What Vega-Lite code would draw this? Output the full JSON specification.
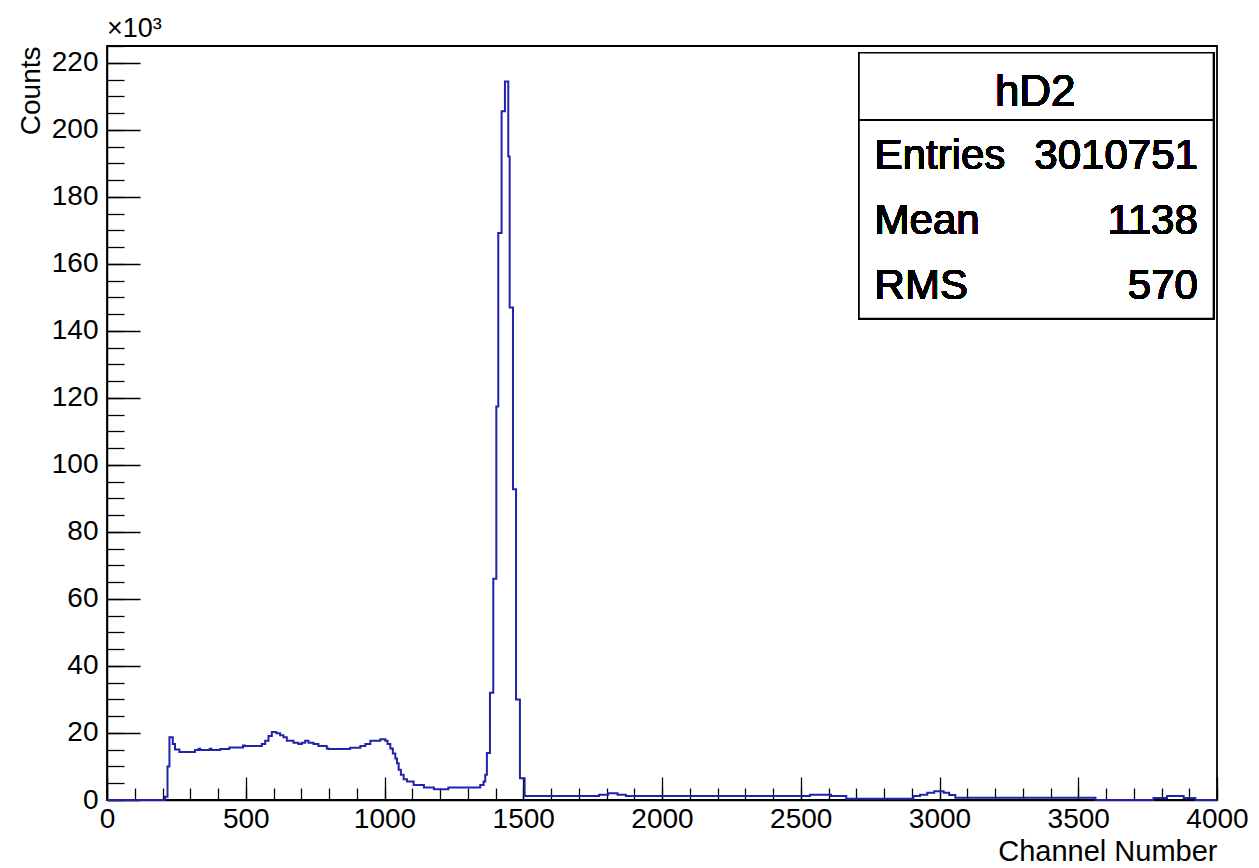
{
  "$schema": "https://vega.github.io/schema/vega-lite/v6.json",
  "width": 1110,
  "height": 754,
  "autosize": {"type": "none"},
  "padding": {"left": 107, "top": 46, "right": 42, "bottom": 68},
  "background": "white",
  "config": {
    "view": {"stroke": "black", "strokeWidth": 1.8},
    "font": "Liberation Sans",
    "title": {"font": "Liberation Sans", "fontWeight": "normal", "color": "black"},
    "axis": {"labelFont": "Liberation Sans", "titleFont": "Liberation Sans", "labelColor": "black", "titleColor": "black", "domainColor": "black", "tickColor": "black", "grid": false, "titleFontWeight": "normal", "tickWidth": 1.3, "domainWidth": 1.5}
  },
  "title": {"text": "×10³", "anchor": "start", "frame": "group", "fontSize": 27, "offset": 2},
  "resolve": {"axis": {"x": "independent", "y": "independent"}},
  "data": {"values": [
    {"channel": 0, "counts": 0}, {"channel": 209, "counts": 1000}, {"channel": 218, "counts": 10000}, {"channel": 225, "counts": 18700},
    {"channel": 237, "counts": 16700}, {"channel": 245, "counts": 15100}, {"channel": 261, "counts": 14300}, {"channel": 317, "counts": 14900},
    {"channel": 330, "counts": 15300}, {"channel": 336, "counts": 14900}, {"channel": 370, "counts": 15300}, {"channel": 376, "counts": 14900},
    {"channel": 408, "counts": 15200}, {"channel": 441, "counts": 15700}, {"channel": 490, "counts": 16300}, {"channel": 496, "counts": 16100},
    {"channel": 558, "counts": 16700}, {"channel": 570, "counts": 17700}, {"channel": 582, "counts": 19100}, {"channel": 594, "counts": 20300},
    {"channel": 610, "counts": 19900}, {"channel": 624, "counts": 19300}, {"channel": 636, "counts": 18700}, {"channel": 648, "counts": 17700},
    {"channel": 672, "counts": 17100}, {"channel": 690, "counts": 16700}, {"channel": 702, "counts": 17100}, {"channel": 714, "counts": 17700},
    {"channel": 726, "counts": 17100}, {"channel": 744, "counts": 16700}, {"channel": 762, "counts": 16100}, {"channel": 792, "counts": 15400},
    {"channel": 798, "counts": 15200}, {"channel": 876, "counts": 15600}, {"channel": 913, "counts": 16100}, {"channel": 931, "counts": 16700},
    {"channel": 949, "counts": 17700}, {"channel": 985, "counts": 18100}, {"channel": 1003, "counts": 17700}, {"channel": 1011, "counts": 16700},
    {"channel": 1021, "counts": 15400}, {"channel": 1030, "counts": 13900}, {"channel": 1039, "counts": 12400}, {"channel": 1045, "counts": 11000},
    {"channel": 1051, "counts": 9000}, {"channel": 1059, "counts": 7500}, {"channel": 1069, "counts": 6200}, {"channel": 1081, "counts": 5500},
    {"channel": 1105, "counts": 4500}, {"channel": 1142, "counts": 3700}, {"channel": 1178, "counts": 3200}, {"channel": 1230, "counts": 3700},
    {"channel": 1345, "counts": 4500}, {"channel": 1357, "counts": 5500}, {"channel": 1363, "counts": 7500}, {"channel": 1369, "counts": 14000},
    {"channel": 1380, "counts": 32000}, {"channel": 1392, "counts": 66000}, {"channel": 1403, "counts": 117400}, {"channel": 1410, "counts": 169200},
    {"channel": 1422, "counts": 205500}, {"channel": 1434, "counts": 214400}, {"channel": 1446, "counts": 192000}, {"channel": 1451, "counts": 147000},
    {"channel": 1463, "counts": 92700}, {"channel": 1474, "counts": 30000}, {"channel": 1488, "counts": 6500}, {"channel": 1505, "counts": 1200},
    {"channel": 1773, "counts": 1600}, {"channel": 1806, "counts": 2000}, {"channel": 1840, "counts": 1600}, {"channel": 1870, "counts": 1200},
    {"channel": 2533, "counts": 1600}, {"channel": 2609, "counts": 1200}, {"channel": 2664, "counts": 400}, {"channel": 2906, "counts": 1200},
    {"channel": 2930, "counts": 1600}, {"channel": 2956, "counts": 2200}, {"channel": 2981, "counts": 2600}, {"channel": 3015, "counts": 2200},
    {"channel": 3035, "counts": 1500}, {"channel": 3057, "counts": 700}, {"channel": 3562, "counts": 0}, {"channel": 3771, "counts": 600},
    {"channel": 3820, "counts": 1200}, {"channel": 3880, "counts": 600}, {"channel": 3922, "counts": 0}, {"channel": 4000, "counts": 0}
  ]},
  "layer": [
    {
      "mark": {"type": "line", "interpolate": "step-after", "color": "#2222aa", "strokeWidth": 2},
      "encoding": {
        "x": {"field": "channel", "type": "quantitative", "scale": {"domain": [0, 4000], "nice": false, "zero": false},
          "axis": {"orient": "bottom", "values": [0, 500, 1000, 1500, 2000, 2500, 3000, 3500, 4000], "format": "d", "ticks": false, "labelFontSize": 28, "labelPadding": 5, "labelFlush": false, "labelOverlap": false, "title": "Channel Number", "titleAnchor": "end", "titleFontSize": 29, "titlePadding": 4}},
        "y": {"field": "counts", "type": "quantitative", "scale": {"domain": [0, 225000], "nice": false},
          "axis": {"orient": "left", "values": [0, 20000, 40000, 60000, 80000, 100000, 120000, 140000, 160000, 180000, 200000, 220000], "labelExpr": "datum.value/1000", "ticks": false, "labelFontSize": 28, "labelPadding": 9, "labelFlush": false, "labelOverlap": false, "title": "Counts", "titleAnchor": "end", "titleFontSize": 28, "titlePadding": 6}}
      }
    },
    {
      "mark": {"type": "line", "opacity": 0},
      "encoding": {
        "x": {"field": "channel", "type": "quantitative", "axis": {"orient": "bottom", "values": [0, 500, 1000, 1500, 2000, 2500, 3000, 3500, 4000], "tickSize": -23, "labels": false, "domain": false, "title": null}},
        "y": {"field": "counts", "type": "quantitative", "axis": {"orient": "left", "values": [0, 20000, 40000, 60000, 80000, 100000, 120000, 140000, 160000, 180000, 200000, 220000], "tickSize": -33, "labels": false, "domain": false, "title": null}}
      }
    },
    {
      "mark": {"type": "line", "opacity": 0},
      "encoding": {
        "x": {"field": "channel", "type": "quantitative", "axis": {"orient": "bottom", "values": [0,100,200,300,400,500,600,700,800,900,1000,1100,1200,1300,1400,1500,1600,1700,1800,1900,2000,2100,2200,2300,2400,2500,2600,2700,2800,2900,3000,3100,3200,3300,3400,3500,3600,3700,3800,3900,4000], "tickSize": -12, "labels": false, "domain": false, "title": null}},
        "y": {"field": "counts", "type": "quantitative", "axis": {"orient": "left", "values": [0,5000,10000,15000,20000,25000,30000,35000,40000,45000,50000,55000,60000,65000,70000,75000,80000,85000,90000,95000,100000,105000,110000,115000,120000,125000,130000,135000,140000,145000,150000,155000,160000,165000,170000,175000,180000,185000,190000,195000,200000,205000,210000,215000,220000,225000], "tickSize": -17, "labels": false, "domain": false, "title": null}}
      }
    },
    {
      "mark": {"type": "rect", "fill": "white", "stroke": "black", "strokeWidth": 1.5},
      "encoding": {"x": {"datum": 2710, "type": "quantitative", "axis": null}, "x2": {"datum": 3987}, "y": {"datum": 223000, "type": "quantitative", "axis": null}, "y2": {"datum": 143700}}
    },
    {
      "mark": {"type": "rule", "stroke": "black", "strokeWidth": 1.2},
      "encoding": {"x": {"datum": 2710, "type": "quantitative", "axis": null}, "x2": {"datum": 3987}, "y": {"datum": 202800, "type": "quantitative", "axis": null}}
    },
    {
      "mark": {"type": "text", "align": "center", "baseline": "middle", "fontSize": 44, "font": "Liberation Sans", "color": "black"},
      "encoding": {"x": {"datum": 3345, "type": "quantitative", "axis": null}, "y": {"datum": 211000, "type": "quantitative", "axis": null}, "text": {"value": "hD2"}}
    },
    {
      "mark": {"type": "text", "align": "left", "baseline": "middle", "fontSize": 42, "font": "Liberation Sans", "color": "black"},
      "encoding": {"x": {"datum": 2766, "type": "quantitative", "axis": null}, "y": {"datum": 192300, "type": "quantitative", "axis": null}, "text": {"value": "Entries"}}
    },
    {
      "mark": {"type": "text", "align": "right", "baseline": "middle", "fontSize": 42, "font": "Liberation Sans", "color": "black"},
      "encoding": {"x": {"datum": 3931, "type": "quantitative", "axis": null}, "y": {"datum": 192300, "type": "quantitative", "axis": null}, "text": {"value": "3010751"}}
    },
    {
      "mark": {"type": "text", "align": "left", "baseline": "middle", "fontSize": 42, "font": "Liberation Sans", "color": "black"},
      "encoding": {"x": {"datum": 2766, "type": "quantitative", "axis": null}, "y": {"datum": 172700, "type": "quantitative", "axis": null}, "text": {"value": "Mean"}}
    },
    {
      "mark": {"type": "text", "align": "right", "baseline": "middle", "fontSize": 42, "font": "Liberation Sans", "color": "black"},
      "encoding": {"x": {"datum": 3931, "type": "quantitative", "axis": null}, "y": {"datum": 172700, "type": "quantitative", "axis": null}, "text": {"value": "1138"}}
    },
    {
      "mark": {"type": "text", "align": "left", "baseline": "middle", "fontSize": 42, "font": "Liberation Sans", "color": "black"},
      "encoding": {"x": {"datum": 2766, "type": "quantitative", "axis": null}, "y": {"datum": 153500, "type": "quantitative", "axis": null}, "text": {"value": "RMS"}}
    },
    {
      "mark": {"type": "text", "align": "right", "baseline": "middle", "fontSize": 42, "font": "Liberation Sans", "color": "black"},
      "encoding": {"x": {"datum": 3931, "type": "quantitative", "axis": null}, "y": {"datum": 153500, "type": "quantitative", "axis": null}, "text": {"value": "570"}}
    }
  ]
}
